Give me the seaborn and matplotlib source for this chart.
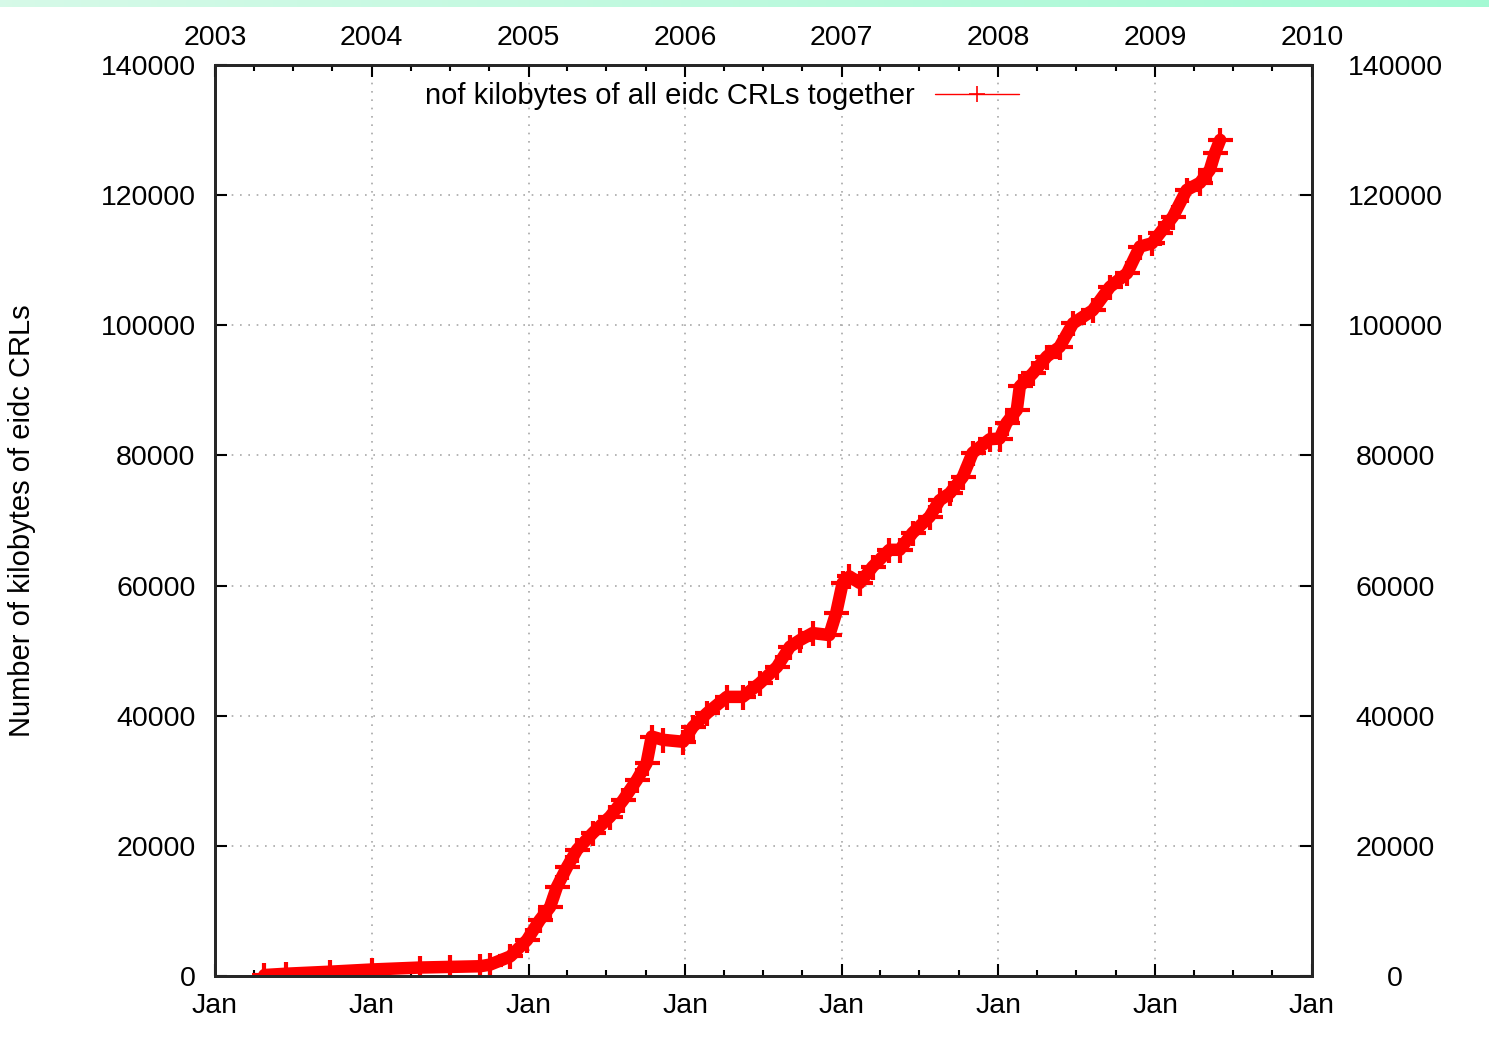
import numpy as np
import pandas as pd
import matplotlib
matplotlib.use('Agg')
import matplotlib.pyplot as plt
import matplotlib.dates as mdates
from matplotlib.lines import Line2D
import seaborn as sns

# valores (kilobytes acumulados de todas las CRLs)
fechas = ['2003-04-26', '2003-06-15', '2003-09-25', '2004-01-01', '2004-04-22',
          '2004-07-01', '2004-09-10', '2004-10-03', '2004-11-19', '2004-12-28',
          '2005-01-27', '2005-02-20', '2005-03-08', '2005-04-01', '2005-04-24',
          '2005-05-31', '2005-07-10', '2005-08-09', '2005-09-10', '2005-10-03',
          '2005-10-15', '2005-11-10', '2005-12-27', '2006-01-19', '2006-02-21',
          '2006-04-08', '2006-05-15', '2006-06-24', '2006-08-03', '2006-09-02',
          '2006-09-25', '2006-10-25', '2006-12-03', '2006-12-19', '2007-01-03',
          '2007-01-19', '2007-02-12', '2007-03-14', '2007-04-22', '2007-05-16',
          '2007-06-15', '2007-07-25', '2007-08-17', '2007-09-10', '2007-10-10',
          '2007-11-02', '2007-12-12', '2008-01-04', '2008-01-20', '2008-02-13',
          '2008-02-20', '2008-03-21', '2008-04-23', '2008-05-23', '2008-06-23',
          '2008-08-08', '2008-09-17', '2008-10-27', '2008-11-26', '2008-12-24',
          '2009-01-12', '2009-02-11', '2009-03-15', '2009-04-15', '2009-05-08',
          '2009-05-20', '2009-06-01']
kilobytes = [150, 350, 660, 1000, 1300,
             1400, 1500, 1750, 3000, 5500,
             8600, 10600, 13700, 16800, 19400,
             22000, 24500, 27000, 30100, 32700,
             36800, 36300, 36000, 38300, 40400,
             42900, 42900, 45000, 47500, 50600,
             51600, 52700, 52400, 55800, 60400,
             61400, 60400, 62900, 65500, 65500,
             68100, 70600, 73100, 74200, 76700,
             80400, 82500, 82600, 85000, 87000,
             90600, 92600, 95200, 96700, 100300,
             102300, 105900, 108000, 112100, 112600,
             114200, 116700, 120800, 121900, 123900,
             126500, 128500]
anios = list(range(2003, 2011))
ytics = list(range(0, 140001, 20000))

df = pd.DataFrame({'fecha': pd.to_datetime(fechas), 'kb': kilobytes})

sns.set_style('white')
plt.rcParams['font.family'] = ['Liberation Sans', 'DejaVu Sans']
plt.rcParams['text.color'] = 'black'
plt.rcParams['axes.labelcolor'] = 'black'
plt.rcParams['xtick.color'] = 'black'
plt.rcParams['ytick.color'] = 'black'
fs = 20.5

fig = plt.figure(figsize=(14.89, 10.61), dpi=100)
fig.subplots_adjust(left=0.1444, right=0.8811, bottom=0.0801, top=0.9387)
ax = fig.add_subplot(111)

# franja verde arriba
banda = fig.add_axes([0, 1 - 7 / 1061, 1, 7 / 1061])
grad = np.linspace(0, 1, 256)
c1 = np.array([0.84, 0.98, 0.91])
c2 = np.array([0.64, 0.98, 0.83])
banda.imshow((c1 + (c2 - c1) * grad[:, None])[None, :, :], aspect='auto')
banda.axis('off')

sns.lineplot(data=df, x='fecha', y='kb', ax=ax, color='red', linewidth=9,
             marker='+', markersize=18, markeredgewidth=3,
             markeredgecolor='red', estimator=None, sort=False, legend=False)

x0, x1 = pd.Timestamp('2003-01-01'), pd.Timestamp('2010-01-01')
ax.set_xlim(x0, x1)
ax.set_ylim(0, 140000)
ax.set_xlabel('')
ax.set_ylabel('Number of kilobytes of eidc CRLs', fontsize=21)
ax.yaxis.set_label_coords(-0.163, 0.5)

ax.xaxis.set_major_locator(mdates.YearLocator())
ax.xaxis.set_major_formatter(mdates.DateFormatter('%b'))
ax.xaxis.set_minor_locator(mdates.MonthLocator(bymonth=[4, 7, 10]))
ax.set_yticks(ytics)
ax.set_yticklabels([str(v) for v in ytics])
ax.grid(which='major', color='#a8a8a8', linestyle=(0, (1, 4)), linewidth=1.2)

lw = 1.8
for s in ax.spines.values():
    s.set_linewidth(lw)
    s.set_color('black')
ax.tick_params(which='major', direction='in', length=8.5, width=1.5,
               labelsize=fs, colors='black')
ax.tick_params(which='minor', direction='in', length=4.5, width=1.5)
ax.tick_params(axis='x', which='major', pad=12)
ax.tick_params(axis='y', which='major', pad=14)

# eje derecho
ax2 = ax.twinx()
ax2.set_ylim(0, 140000)
ax2.set_yticks(ytics)
ax2.set_yticklabels([str(v) for v in ytics])
ax2.tick_params(axis='y', direction='in', length=8.5, width=1.5,
                labelsize=fs, pad=60)
for t in ax2.get_yticklabels():
    t.set_horizontalalignment('center')
ax2.grid(False)

# eje superior con los anios
ax3 = ax.twiny()
ax3.set_xlim(ax.get_xlim())
ax3.set_xticks([mdates.date2num(pd.Timestamp(f'{a}-01-01')) for a in anios])
ax3.set_xticklabels([str(a) for a in anios])
ax3.xaxis.set_minor_locator(mdates.MonthLocator(bymonth=[4, 7, 10]))
ax3.tick_params(axis='x', which='major', direction='in', length=8.5,
                width=1.5, labelsize=fs, pad=10)
ax3.tick_params(axis='x', which='minor', direction='in', length=4.5, width=1.5)
ax3.grid(False)
for a in (ax2, ax3):
    for s in a.spines.values():
        s.set_linewidth(lw)

h = Line2D([], [], color='red', linewidth=1, marker='+', markersize=12,
           markeredgewidth=1.2)
ax.legend([h], ['nof kilobytes of all eidc CRLs together'], loc='upper right',
          bbox_to_anchor=(0.744, 0.994), borderaxespad=0, frameon=False,
          markerfirst=False, handlelength=2.9, handletextpad=0.7, fontsize=21)

plt.savefig('out.png', dpi=100)
